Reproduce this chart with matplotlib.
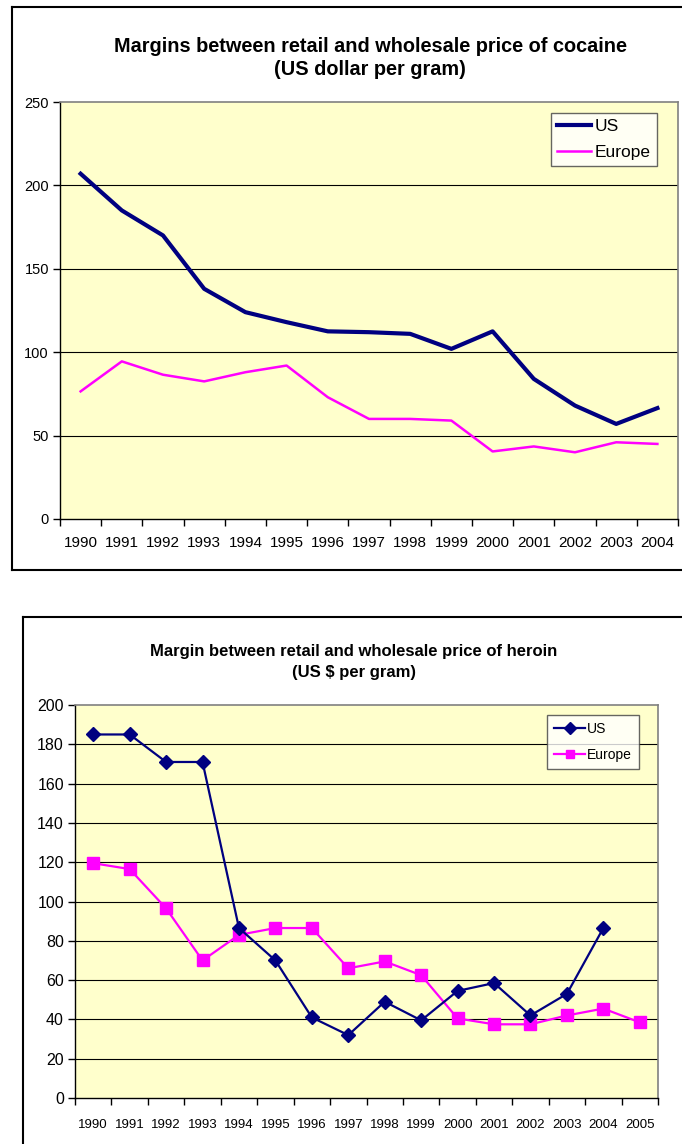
import matplotlib.pyplot as plt
from matplotlib.lines import Line2D

W, H = 682, 1144
NAVY = "#000080"
MAGENTA = "#FF00FF"
BG = "#FFFFCC"

plt.rcParams["font.family"] = ["Liberation Sans", "DejaVu Sans"]

# cocaine chart
coke_years = [str(y) for y in range(1990, 2005)]
coke_us = [207, 185, 170, 138, 124, 118, 112.5, 112, 111, 102, 112.5, 84, 68, 57, 66.5]
coke_eu = [76.5, 94.5, 86.5, 82.5, 88, 92, 73, 60, 60, 59, 40.5, 43.5, 40, 46, 45]

# heroin chart
her_years = [str(y) for y in range(1990, 2006)]
her_us = [185, 185, 171, 171, 86.5, 70, 41, 32, 49, 39.5, 54.5, 58.5, 42, 53, 86.5, None]
her_eu = [119.5, 116.5, 96.5, 70, 83, 86.5, 86.5, 66, 69.5, 62.5, 40.5, 37.5, 37.5, 42, 45.5, 38.5]


def px_axes(fig, left, top, right, bottom):
    return fig.add_axes([left / W, 1 - bottom / H, (right - left) / W, (bottom - top) / H])


def style_axes(ax, n, ymax, step, xfs, yfs, xpad):
    ax.set_facecolor(BG)
    ax.set_xlim(-0.5, n - 0.5)
    ax.set_ylim(0, ymax)
    ax.set_yticks(range(0, ymax + 1, step))
    ax.set_xticks(range(n))
    ax.set_xticks([i - 0.5 for i in range(n + 1)], minor=True)
    ax.tick_params(axis="x", which="major", length=0, pad=xpad, labelsize=xfs)
    ax.tick_params(axis="x", which="minor", length=5, width=1, direction="out")
    ax.tick_params(axis="y", length=5, width=1, direction="out", pad=3, labelsize=yfs)
    for y in range(step, ymax, step):
        ax.axhline(y, color="black", lw=0.8, zorder=1)
    for s in ("top", "right"):
        ax.spines[s].set_color("#808080")
        ax.spines[s].set_linewidth(1.2)
    for s in ("left", "bottom"):
        ax.spines[s].set_color("black")
        ax.spines[s].set_linewidth(1)


def box(fig, left, top, bottom=None):
    kw = dict(color="black", lw=1.5, transform=fig.transFigure)
    fig.add_artist(Line2D([left / W, left / W], [1 - top / H, 1 - (bottom or H + 5) / H], **kw))
    fig.add_artist(Line2D([left / W, 1.01], [1 - top / H, 1 - top / H], **kw))
    if bottom:
        fig.add_artist(Line2D([left / W, 1.01], [1 - bottom / H, 1 - bottom / H], **kw))


fig = plt.figure(figsize=(W / 100, H / 100), dpi=100)

# --- cocaine ---
box(fig, 12, 7, 570)
fig.text(370 / W, 1 - 58 / H, "Margins between retail and wholesale price of cocaine\n(US dollar per gram)",
         ha="center", va="center", fontsize=14.3, fontweight="bold", linespacing=1.25)
ax1 = px_axes(fig, 60, 102, 678, 519)
style_axes(ax1, len(coke_years), 250, 50, 11, 10.5, 12)
x1 = range(len(coke_years))
ax1.plot(x1, coke_us, color=NAVY, lw=3, label="US", zorder=3)
ax1.plot(x1, coke_eu, color=MAGENTA, lw=1.8, label="Europe", zorder=3)
ax1.set_xticklabels(coke_years)
leg1 = ax1.legend(loc="upper right", bbox_to_anchor=(0.966, 0.974), borderaxespad=0,
                  fontsize=12.5, frameon=True, fancybox=False, handlelength=2,
                  handletextpad=0.2, borderpad=0.35, labelspacing=0.6)
leg1.get_frame().set_edgecolor("#404040")
leg1.get_frame().set_linewidth(1)

# --- heroin ---
box(fig, 23, 617)
fig.text(354 / W, 1 - 662 / H, "Margin between retail and wholesale price of heroin\n(US $ per gram)",
         ha="center", va="center", fontsize=12, fontweight="bold", linespacing=1.5)
ax2 = px_axes(fig, 75, 705, 658, 1098)
style_axes(ax2, len(her_years), 200, 20, 9.5, 11.5, 15)
x2 = list(range(len(her_years)))
us_pts = [(x, v) for x, v in zip(x2, her_us) if v is not None]
ax2.plot([p[0] for p in us_pts], [p[1] for p in us_pts], color=NAVY, lw=1.6,
         marker="D", ms=7.5, label="US", zorder=4)
ax2.plot(x2, her_eu, color=MAGENTA, lw=1.6, marker="s", ms=8, label="Europe", zorder=3)
ax2.set_xticklabels(her_years)
leg2 = ax2.legend(loc="upper right", bbox_to_anchor=(0.967, 0.975), borderaxespad=0,
                  fontsize=10, frameon=True, fancybox=False, handlelength=2.2,
                  handletextpad=0.15, borderpad=0.5, labelspacing=0.85, markerscale=0.75)
leg2.get_frame().set_edgecolor("#404040")
leg2.get_frame().set_linewidth(1)

fig.savefig("out.png", dpi=100)
